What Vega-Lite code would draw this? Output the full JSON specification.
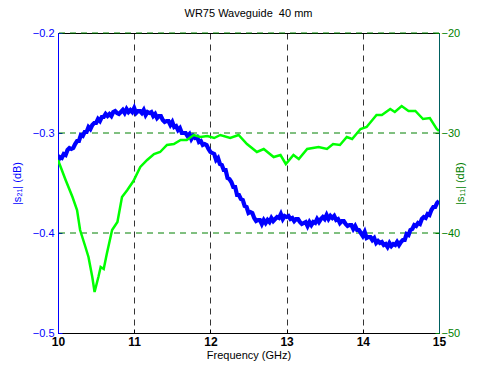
{
  "$schema": "https://vega.github.io/schema/vega-lite/v6.json",
  "autosize": {"type": "none"},
  "width": 381,
  "height": 300,
  "padding": {"left": 58, "top": 33, "right": 38, "bottom": 32},
  "background": "white",
  "config": {
    "font": "Liberation Sans",
    "view": {"stroke": "black", "strokeWidth": 1},
    "axis": {"labelFont": "Liberation Sans", "titleFont": "Liberation Sans", "titleFontWeight": "normal", "labelFontSize": 11, "titleFontSize": 11}
  },
  "title": {"text": "WR75 Waveguide\u00a0 40 mm", "fontSize": 11, "fontWeight": "normal", "font": "Liberation Sans", "color": "black", "offset": 8, "anchor": "middle"},
  "datasets": {
    "grid": [{"v": -0.2}, {"v": -0.3}, {"v": -0.4}],
    "s21": [
      {"f":10.000,"v":-0.328},{"f":10.025,"v":-0.324},{"f":10.050,"v":-0.325},{"f":10.075,"v":-0.321},{"f":10.100,"v":-0.322},
      {"f":10.125,"v":-0.317},{"f":10.150,"v":-0.315},{"f":10.175,"v":-0.316},{"f":10.200,"v":-0.315},{"f":10.225,"v":-0.311},
      {"f":10.250,"v":-0.308},{"f":10.275,"v":-0.308},{"f":10.300,"v":-0.302},{"f":10.325,"v":-0.303},{"f":10.350,"v":-0.299},
      {"f":10.375,"v":-0.299},{"f":10.400,"v":-0.294},{"f":10.425,"v":-0.296},{"f":10.450,"v":-0.292},{"f":10.475,"v":-0.290},
      {"f":10.500,"v":-0.290},{"f":10.525,"v":-0.286},{"f":10.550,"v":-0.288},{"f":10.575,"v":-0.284},{"f":10.600,"v":-0.284},
      {"f":10.625,"v":-0.281},{"f":10.650,"v":-0.283},{"f":10.675,"v":-0.281},{"f":10.700,"v":-0.283},{"f":10.725,"v":-0.279},
      {"f":10.750,"v":-0.278},{"f":10.775,"v":-0.280},{"f":10.800,"v":-0.281},{"f":10.825,"v":-0.279},{"f":10.850,"v":-0.277},
      {"f":10.875,"v":-0.280},{"f":10.900,"v":-0.276},{"f":10.925,"v":-0.279},{"f":10.950,"v":-0.277},{"f":10.975,"v":-0.279},
      {"f":11.000,"v":-0.275},{"f":11.025,"v":-0.280},{"f":11.050,"v":-0.278},{"f":11.075,"v":-0.278},{"f":11.100,"v":-0.280},
      {"f":11.125,"v":-0.277},{"f":11.150,"v":-0.282},{"f":11.175,"v":-0.279},{"f":11.200,"v":-0.280},{"f":11.225,"v":-0.279},
      {"f":11.250,"v":-0.283},{"f":11.275,"v":-0.281},{"f":11.300,"v":-0.285},{"f":11.325,"v":-0.283},{"f":11.350,"v":-0.283},
      {"f":11.375,"v":-0.287},{"f":11.400,"v":-0.289},{"f":11.425,"v":-0.288},{"f":11.450,"v":-0.288},{"f":11.475,"v":-0.292},
      {"f":11.500,"v":-0.289},{"f":11.525,"v":-0.294},{"f":11.550,"v":-0.293},{"f":11.575,"v":-0.297},{"f":11.600,"v":-0.295},
      {"f":11.625,"v":-0.300},{"f":11.650,"v":-0.300},{"f":11.675,"v":-0.300},{"f":11.700,"v":-0.303},{"f":11.725,"v":-0.301},
      {"f":11.750,"v":-0.306},{"f":11.775,"v":-0.303},{"f":11.800,"v":-0.305},{"f":11.825,"v":-0.304},{"f":11.850,"v":-0.309},
      {"f":11.875,"v":-0.308},{"f":11.900,"v":-0.312},{"f":11.925,"v":-0.311},{"f":11.950,"v":-0.312},{"f":11.975,"v":-0.316},
      {"f":12.000,"v":-0.319},{"f":12.025,"v":-0.320},{"f":12.050,"v":-0.321},{"f":12.075,"v":-0.327},{"f":12.100,"v":-0.325},
      {"f":12.125,"v":-0.331},{"f":12.150,"v":-0.332},{"f":12.175,"v":-0.337},{"f":12.200,"v":-0.337},{"f":12.225,"v":-0.345},
      {"f":12.250,"v":-0.346},{"f":12.275,"v":-0.349},{"f":12.300,"v":-0.354},{"f":12.325,"v":-0.354},{"f":12.350,"v":-0.362},
      {"f":12.375,"v":-0.362},{"f":12.400,"v":-0.366},{"f":12.425,"v":-0.367},{"f":12.450,"v":-0.373},{"f":12.475,"v":-0.374},
      {"f":12.500,"v":-0.380},{"f":12.525,"v":-0.379},{"f":12.550,"v":-0.380},{"f":12.575,"v":-0.385},{"f":12.600,"v":-0.388},
      {"f":12.625,"v":-0.387},{"f":12.650,"v":-0.387},{"f":12.675,"v":-0.391},{"f":12.700,"v":-0.387},{"f":12.725,"v":-0.390},
      {"f":12.750,"v":-0.387},{"f":12.775,"v":-0.389},{"f":12.800,"v":-0.385},{"f":12.825,"v":-0.388},{"f":12.850,"v":-0.386},
      {"f":12.875,"v":-0.384},{"f":12.900,"v":-0.385},{"f":12.925,"v":-0.381},{"f":12.950,"v":-0.386},{"f":12.975,"v":-0.383},
      {"f":13.000,"v":-0.384},{"f":13.025,"v":-0.383},{"f":13.050,"v":-0.386},{"f":13.075,"v":-0.385},{"f":13.100,"v":-0.388},
      {"f":13.125,"v":-0.386},{"f":13.150,"v":-0.386},{"f":13.175,"v":-0.389},{"f":13.200,"v":-0.391},{"f":13.225,"v":-0.390},
      {"f":13.250,"v":-0.389},{"f":13.275,"v":-0.393},{"f":13.300,"v":-0.389},{"f":13.325,"v":-0.392},{"f":13.350,"v":-0.389},
      {"f":13.375,"v":-0.390},{"f":13.400,"v":-0.386},{"f":13.425,"v":-0.389},{"f":13.450,"v":-0.386},{"f":13.475,"v":-0.384},
      {"f":13.500,"v":-0.386},{"f":13.525,"v":-0.382},{"f":13.550,"v":-0.386},{"f":13.575,"v":-0.383},{"f":13.600,"v":-0.385},
      {"f":13.625,"v":-0.383},{"f":13.650,"v":-0.387},{"f":13.675,"v":-0.386},{"f":13.700,"v":-0.390},{"f":13.725,"v":-0.388},
      {"f":13.750,"v":-0.388},{"f":13.775,"v":-0.391},{"f":13.800,"v":-0.393},{"f":13.825,"v":-0.392},{"f":13.850,"v":-0.392},
      {"f":13.875,"v":-0.396},{"f":13.900,"v":-0.393},{"f":13.925,"v":-0.397},{"f":13.950,"v":-0.397},{"f":13.975,"v":-0.400},
      {"f":14.000,"v":-0.403},{"f":14.025,"v":-0.399},{"f":14.050,"v":-0.405},{"f":14.075,"v":-0.404},{"f":14.100,"v":-0.404},
      {"f":14.125,"v":-0.407},{"f":14.150,"v":-0.405},{"f":14.175,"v":-0.410},{"f":14.200,"v":-0.408},{"f":14.225,"v":-0.410},
      {"f":14.250,"v":-0.409},{"f":14.275,"v":-0.412},{"f":14.300,"v":-0.411},{"f":14.325,"v":-0.414},{"f":14.350,"v":-0.410},
      {"f":14.375,"v":-0.413},{"f":14.400,"v":-0.411},{"f":14.425,"v":-0.412},{"f":14.450,"v":-0.409},{"f":14.475,"v":-0.412},
      {"f":14.500,"v":-0.409},{"f":14.525,"v":-0.407},{"f":14.550,"v":-0.407},{"f":14.575,"v":-0.401},{"f":14.600,"v":-0.402},
      {"f":14.625,"v":-0.397},{"f":14.650,"v":-0.396},{"f":14.675,"v":-0.392},{"f":14.700,"v":-0.393},{"f":14.725,"v":-0.390},
      {"f":14.750,"v":-0.391},{"f":14.775,"v":-0.386},{"f":14.800,"v":-0.384},{"f":14.825,"v":-0.385},{"f":14.850,"v":-0.381},
      {"f":14.875,"v":-0.382},{"f":14.900,"v":-0.377},{"f":14.925,"v":-0.374},{"f":14.950,"v":-0.374},{"f":14.975,"v":-0.370},
      {"f":15.000,"v":-0.368}
    ],
    "s11": [
      {"f":10.00,"s":-32.7},{"f":10.10,"s":-34.7},{"f":10.19,"s":-36.4},{"f":10.25,"s":-37.7},{"f":10.29,"s":-39.7},
      {"f":10.36,"s":-41.4},{"f":10.40,"s":-42.4},{"f":10.45,"s":-44.4},{"f":10.48,"s":-45.9},{"f":10.53,"s":-44.4},
      {"f":10.56,"s":-43.4},{"f":10.60,"s":-43.6},{"f":10.64,"s":-42.1},{"f":10.71,"s":-39.7},{"f":10.78,"s":-38.9},
      {"f":10.84,"s":-36.4},{"f":10.91,"s":-35.7},{"f":10.99,"s":-34.8},{"f":11.08,"s":-33.4},{"f":11.17,"s":-32.7},
      {"f":11.26,"s":-32.1},{"f":11.34,"s":-31.9},{"f":11.43,"s":-31.2},{"f":11.52,"s":-31.1},{"f":11.61,"s":-30.7},
      {"f":11.69,"s":-30.7},{"f":11.78,"s":-30.2},{"f":11.87,"s":-30.4},{"f":11.96,"s":-30.3},{"f":12.05,"s":-30.5},
      {"f":12.13,"s":-30.2},{"f":12.26,"s":-30.5},{"f":12.37,"s":-30.2},{"f":12.48,"s":-31.1},{"f":12.61,"s":-31.9},
      {"f":12.70,"s":-31.6},{"f":12.83,"s":-32.4},{"f":12.92,"s":-32.2},{"f":12.99,"s":-33.1},{"f":13.09,"s":-32.2},
      {"f":13.16,"s":-32.6},{"f":13.27,"s":-31.6},{"f":13.42,"s":-31.4},{"f":13.53,"s":-31.6},{"f":13.61,"s":-31.1},
      {"f":13.70,"s":-31.2},{"f":13.79,"s":-30.4},{"f":13.86,"s":-30.6},{"f":13.97,"s":-29.6},{"f":14.05,"s":-29.4},
      {"f":14.18,"s":-28.2},{"f":14.25,"s":-28.2},{"f":14.36,"s":-27.6},{"f":14.42,"s":-27.9},{"f":14.51,"s":-27.3},
      {"f":14.60,"s":-27.8},{"f":14.69,"s":-27.8},{"f":14.79,"s":-28.6},{"f":14.88,"s":-28.5},{"f":14.97,"s":-29.6},
      {"f":15.00,"s":-29.8}
    ]
  },
  "layer": [
    {
      "layer": [
        {
          "data": {"name": "grid"},
          "mark": {"type": "rule", "color": "#008000", "strokeWidth": 1, "strokeDash": [6, 5]},
          "encoding": {
            "y": {"field": "v", "type": "quantitative", "scale": {"domain": [-0.5, -0.2], "nice": false, "zero": false}}
          }
        },
        {
          "data": {"name": "s21"},
          "mark": {"type": "line", "color": "#0000ff", "strokeWidth": 4.2, "clip": true},
          "encoding": {
            "x": {"field": "f", "type": "quantitative",
              "scale": {"domain": [10, 15], "nice": false, "zero": false},
              "axis": {"title": "Frequency (GHz)", "values": [10, 11, 12, 13, 14, 15], "format": "d", "labelFlush": false,
                "labelFontWeight": "bold", "labelFontSize": 12, "labelColor": "black", "titleColor": "black",
                "domainColor": "black", "tickColor": "black", "tickSize": -4, "labelPadding": 7, "titlePadding": 2,
                "grid": true, "gridColor": "black", "gridDash": [6, 5], "gridOpacity": 0.8}},
            "y": {"field": "v", "type": "quantitative",
              "scale": {"domain": [-0.5, -0.2], "nice": false, "zero": false},
              "axis": {"title": "|s₂₁| (dB)", "values": [-0.5, -0.4, -0.3, -0.2], "format": ".1f",
                "labelColor": "#0000ff", "titleColor": "#0000ff", "domainColor": "#0000ff", "tickColor": "#0000ff",
                "tickSize": -4, "labelPadding": 8, "titlePadding": 10, "grid": false}}
          }
        }
      ]
    },
    {
      "data": {"name": "s11"},
      "mark": {"type": "line", "color": "#00ff00", "strokeWidth": 2.5, "clip": true},
      "encoding": {
        "x": {"field": "f", "type": "quantitative"},
        "y": {"field": "s", "type": "quantitative",
          "scale": {"domain": [-50, -20], "nice": false, "zero": false},
          "axis": {"orient": "right", "title": "|s₁₁| (dB)", "values": [-50, -40, -30, -20], "format": "d",
            "labelColor": "#008000", "titleColor": "#008000", "domainColor": "#006060", "tickColor": "#008000",
            "tickSize": -4, "labelPadding": 6, "titlePadding": 6, "titleAngle": 270, "titleBaseline": "bottom",
            "grid": false}}
      }
    }
  ],
  "resolve": {"scale": {"y": "independent"}}
}
